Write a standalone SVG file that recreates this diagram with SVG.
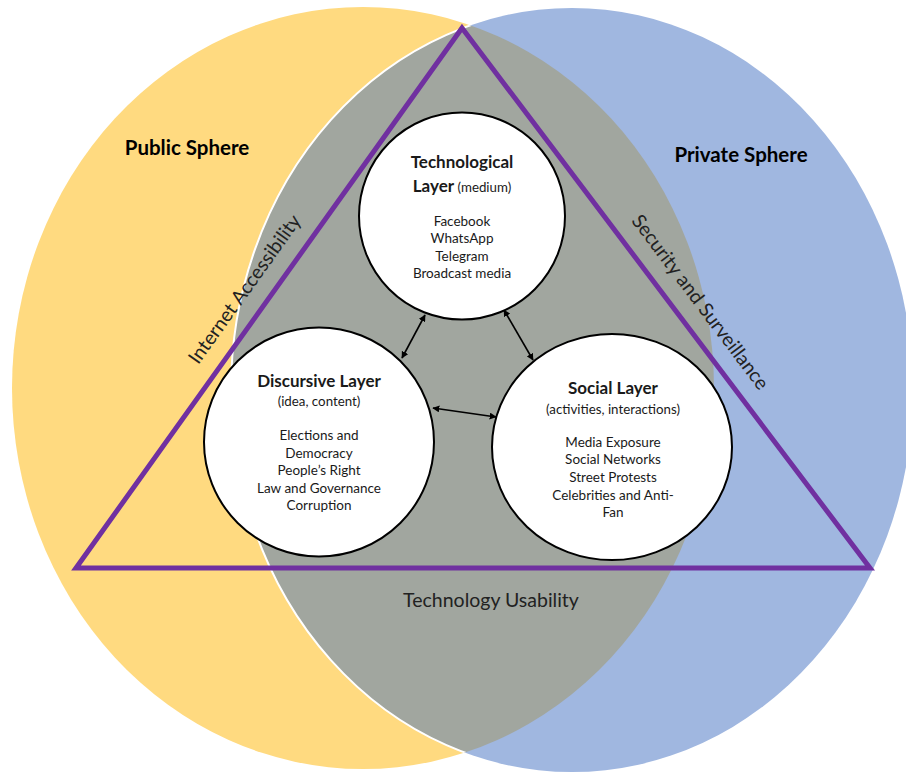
<svg xmlns="http://www.w3.org/2000/svg" width="906" height="772" viewBox="0 0 906 772">
<style>
text{font-family:Lato,"Open Sans","Liberation Sans",sans-serif;fill:#1a1a1a;text-anchor:middle}
.h{font-size:17px;font-weight:bold}
.s{font-size:13.5px}
.m{font-size:13.3px}
.sp{font-size:20.5px;font-weight:bold;fill:#000}
.side{font-size:19.5px;fill:#222}
.node{fill:#fff;stroke:#000;stroke-width:2}
.conn{stroke:#000;stroke-width:1.6;fill:none;marker-start:url(#ah);marker-end:url(#ah)}
</style>
<defs>
<clipPath id="clipY"><ellipse cx="363" cy="388" rx="351" ry="381"/></clipPath>
<marker id="ah" viewBox="0 0 10 10" refX="9" refY="5" markerWidth="7" markerHeight="7" orient="auto-start-reverse" markerUnits="userSpaceOnUse"><path d="M0,0 L10,5 L0,10 z" fill="#000"/></marker>
</defs>
<rect width="906" height="772" fill="#fff"/>
<g id="spheres">
<ellipse id="public-sphere" cx="363" cy="388" rx="351" ry="381" fill="#FFDA80"/>
<ellipse id="private-sphere" cx="572" cy="390" rx="341" ry="382" fill="#A0B7E0"/>
<ellipse cx="572" cy="390" rx="341" ry="382" fill="#A1A69F" clip-path="url(#clipY)"/>
<ellipse cx="572" cy="390" rx="341" ry="382" fill="none" stroke="#fff" stroke-width="2" clip-path="url(#clipY)"/>
</g>
<text class="sp" x="187" y="155">Public Sphere</text>
<text class="sp" x="741" y="162">Private Sphere</text>
<g id="triangle">
<polygon points="462,28 870,568 76,568" fill="none" stroke="#7030A0" stroke-width="5" stroke-linejoin="miter"/>
</g>
<text class="side" transform="translate(250,293) rotate(-54.4)">Internet Accessibility</text>
<text class="side" transform="translate(695,306) rotate(53)">Security and Surveillance</text>
<text class="side" x="491" y="607">Technology Usability</text>
<g id="connectors">
<line class="conn" x1="425" y1="315" x2="402" y2="358"/>
<line class="conn" x1="504" y1="310" x2="533" y2="360"/>
<line class="conn" x1="433" y1="408" x2="496" y2="417"/>
</g>
<g id="technological-layer">
<ellipse class="node" cx="462" cy="216" rx="103" ry="103.5"/>
<text class="h" x="462" y="168">Technological</text>
<text x="462" y="192"><tspan class="h">Layer</tspan><tspan class="m"> (medium)</tspan></text>
<text class="s" x="462" y="226">Facebook</text>
<text class="s" x="462" y="243">WhatsApp</text>
<text class="s" x="462" y="261">Telegram</text>
<text class="s" x="462" y="278">Broadcast media</text>
</g>
<g id="discursive-layer">
<ellipse class="node" cx="319" cy="442" rx="115" ry="114.5"/>
<text class="h" x="319" y="387">Discursive Layer</text>
<text class="m" x="319" y="406">(idea, content)</text>
<text class="s" x="319" y="440">Elections and</text>
<text class="s" x="319" y="458">Democracy</text>
<text class="s" x="319" y="475">People’s Right</text>
<text class="s" x="319" y="493">Law and Governance</text>
<text class="s" x="319" y="510">Corruption</text>
</g>
<g id="social-layer">
<ellipse class="node" cx="612" cy="447" rx="120" ry="113"/>
<text class="h" x="613" y="394">Social Layer</text>
<text class="m" x="613" y="414">(activities, interactions)</text>
<text class="s" x="613" y="447">Media Exposure</text>
<text class="s" x="613" y="464">Social Networks</text>
<text class="s" x="613" y="482">Street Protests</text>
<text class="s" x="613" y="500">Celebrities and Anti-</text>
<text class="s" x="613" y="517">Fan</text>
</g>
</svg>
